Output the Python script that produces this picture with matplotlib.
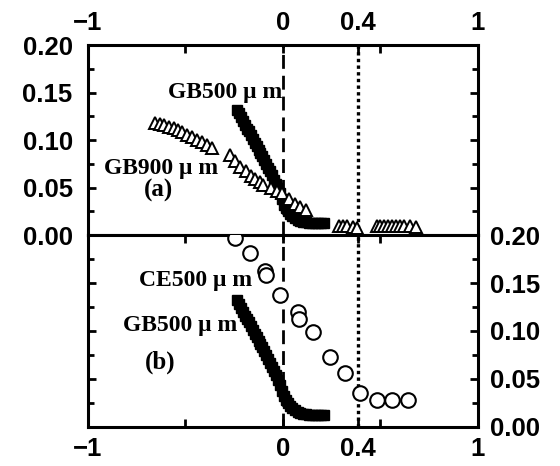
import matplotlib.pyplot as plt
from matplotlib.ticker import MultipleLocator, FixedLocator

# GB500 um (filled squares, drawn in both panels)
gb500_x = [-0.235, -0.225, -0.215, -0.205, -0.195, -0.185, -0.175, -0.165, -0.155, -0.145,
           -0.135, -0.125, -0.115, -0.105, -0.095, -0.085, -0.075, -0.065, -0.055, -0.045,
           -0.035, -0.025, -0.015, -0.005, 0.005, 0.015, 0.025, 0.035, 0.045, 0.06,
           0.075, 0.09, 0.105, 0.12, 0.135, 0.15, 0.165, 0.18, 0.195, 0.21]
gb500_y = [0.132, 0.128, 0.124, 0.120, 0.116, 0.112, 0.109, 0.105, 0.101, 0.097,
           0.094, 0.090, 0.086, 0.083, 0.079, 0.075, 0.071, 0.067, 0.063, 0.058,
           0.054, 0.049, 0.044, 0.038, 0.032, 0.028, 0.025, 0.022, 0.020, 0.018,
           0.016, 0.015, 0.014, 0.014, 0.013, 0.013, 0.013, 0.013, 0.013, 0.013]

# GB900 um (open triangles, panel a)
gb900_x = [-0.655, -0.63, -0.61, -0.585, -0.56, -0.54, -0.515, -0.49, -0.465, -0.44,
           -0.415, -0.39, -0.365, -0.27, -0.245, -0.22, -0.19, -0.165, -0.145, -0.12,
           -0.10, -0.06, -0.03, -0.005, 0.03, 0.06, 0.09, 0.12,
           0.29, 0.31, 0.33, 0.36, 0.38,
           0.48, 0.50, 0.52, 0.54, 0.56, 0.58, 0.60, 0.62, 0.65, 0.68]
gb900_y = [0.118, 0.117, 0.116, 0.114, 0.113, 0.111, 0.108, 0.105, 0.103, 0.100,
           0.098, 0.095, 0.092, 0.084, 0.078, 0.072, 0.067, 0.062, 0.059, 0.056,
           0.053, 0.049, 0.046, 0.044, 0.038, 0.033, 0.029, 0.026,
           0.009, 0.010, 0.009, 0.008, 0.007,
           0.009, 0.009, 0.010, 0.010, 0.010, 0.010, 0.010, 0.010, 0.009, 0.008]

# CE500 um (open circles, panel b)
ce500_x = [-0.245, -0.17, -0.09, -0.085, -0.015, 0.075, 0.08, 0.155, 0.24, 0.32,
           0.395, 0.48, 0.56, 0.64]
ce500_y = [0.197, 0.181, 0.163, 0.158, 0.137, 0.120, 0.113, 0.099, 0.073, 0.056,
           0.035, 0.028, 0.028, 0.028]

x_tick_pos = [-1, -0.5, 0, 0.385, 0.5, 1]
x_tick_lab = ['\u22121', '', '0', '0.4', '', '1']
y_ticks = [0, 0.05, 0.10, 0.15, 0.20]
y_tick_lab = ['0.00', '0.05', '0.10', '0.15', '0.20']

tick_font = dict(family='Liberation Sans', weight='bold', size=18.5)
note_font = dict(family='Liberation Serif', weight='bold', size=17)
panel_font = dict(family='Liberation Serif', weight='bold', size=18)

fig = plt.figure(figsize=(5.6, 4.66), dpi=100)
ax_a = fig.add_axes([0.157, 0.4957, 0.6964, 0.4077])
ax_b = fig.add_axes([0.157, 0.0837, 0.6964, 0.412])

for ax in (ax_a, ax_b):
    ax.set_xlim(-1, 1)
    ax.set_ylim(0, 0.2)
    for s in ax.spines.values():
        s.set_linewidth(2.2)
    ax.xaxis.set_major_locator(FixedLocator(x_tick_pos))
    ax.yaxis.set_major_locator(FixedLocator(y_ticks))
    ax.yaxis.set_minor_locator(MultipleLocator(0.025))
    ax.tick_params(which='major', direction='in', length=6, width=2)
    ax.tick_params(which='minor', direction='in', length=4, width=2)
    ax.axvline(0, color='k', lw=2, ls=(0, (5, 2.5)), zorder=1)
    ax.axvline(0.385, color='k', lw=2.4, ls=(0, (1, 1)), zorder=1)
    ax.plot(gb500_x, gb500_y, 's', color='k', ms=7.5, zorder=2)

# panel (a)
ax_a.plot(gb900_x, gb900_y, '^', mfc='white', mec='k', ms=9, mew=1.4, zorder=3)
ax_a.tick_params(axis='both', which='both', left=True, right=True, top=True, bottom=False,
                 labelleft=True, labelright=False, labeltop=True, labelbottom=False)
ax_a.tick_params(axis='y', pad=11)
ax_a.tick_params(axis='x', pad=7)
ax_a.set_xticklabels(x_tick_lab, **tick_font)
ax_a.set_yticklabels(y_tick_lab, **tick_font)
ax_a.text(-0.005, 0.15, 'GB500 \u03bc m', ha='right', va='center', **note_font)
ax_a.text(-0.33, 0.07, 'GB900 \u03bc m', ha='right', va='center', **note_font)
ax_a.text(-0.64, 0.047, '(a)', ha='center', va='center', **panel_font)

# panel (b)
ax_b.plot(ce500_x, ce500_y, 'o', mfc='white', mec='k', ms=10.5, mew=1.5, zorder=3)
ax_b.tick_params(axis='both', which='both', left=True, right=True, top=True, bottom=True,
                 labelleft=False, labelright=True, labeltop=False, labelbottom=True)
ax_b.tick_params(axis='y', pad=9)
ax_b.tick_params(axis='x', pad=7)
ax_b.set_xticklabels(x_tick_lab, **tick_font)
ax_b.set_yticklabels(y_tick_lab, **tick_font)
ax_b.text(-0.16, 0.153, 'CE500 \u03bc m', ha='right', va='center', **note_font)
ax_b.text(-0.236, 0.106, 'GB500 \u03bc m', ha='right', va='center', **note_font)
ax_b.text(-0.63, 0.067, '(b)', ha='center', va='center', **panel_font)

fig.savefig('out.png', dpi=100)
